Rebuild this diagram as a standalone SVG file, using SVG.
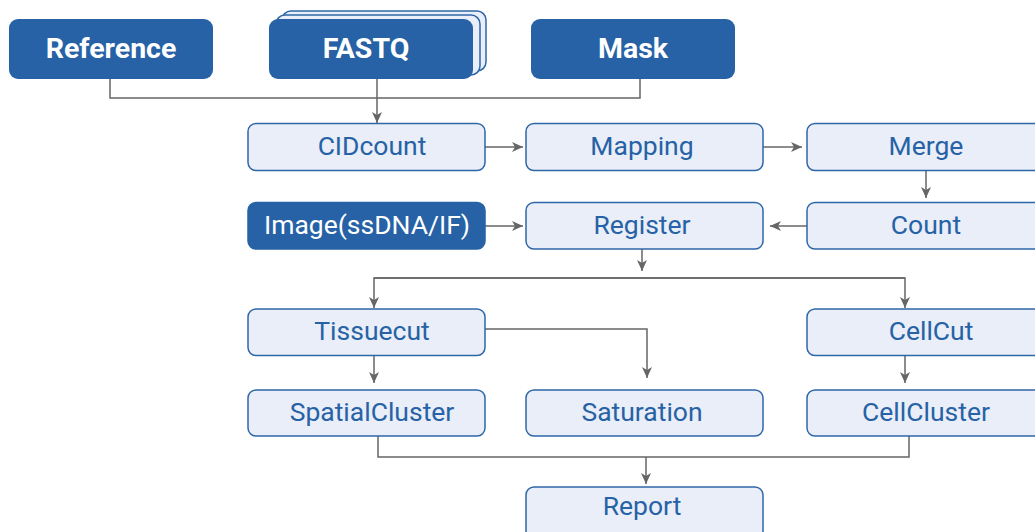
<svg xmlns="http://www.w3.org/2000/svg" width="1035" height="532" viewBox="0 0 1035 532">
<style>
.top{fill:#2662A5;}
.topt{fill:#fff;font-family:Roboto,"Liberation Sans",sans-serif;font-weight:bold;font-size:28.5px;text-anchor:middle;}
.box{fill:#E9EEF8;stroke:#2E67A8;stroke-width:1.5;}
.dark{fill:#2662A5;stroke:#2662A5;stroke-width:1.5;}
.t{fill:#2662A5;font-family:Roboto,"Liberation Sans",sans-serif;font-size:26.5px;text-anchor:middle;}
.tw{fill:#fff;font-family:Roboto,"Liberation Sans",sans-serif;font-size:26.5px;text-anchor:middle;}
.ln{fill:none;stroke:#666;stroke-width:1.5;}
.ar{fill:none;stroke:#666;stroke-width:1.5;marker-end:url(#ah);}
</style>
<defs>
<marker id="ah" markerUnits="userSpaceOnUse" markerWidth="12" markerHeight="12" viewBox="0 0 12 12" refX="11" refY="6" orient="auto">
<path d="M0,1 L11,6 L0,11 L3,6 z" fill="#666"/>
</marker>
</defs>
<g id="connectors">
<polyline class="ln" points="110,79 110,98 640,98 640,79"/>
<line class="ar" x1="377" y1="79" x2="377" y2="123"/>
<line class="ar" x1="485" y1="147" x2="523" y2="147"/>
<line class="ar" x1="763" y1="147" x2="802" y2="147"/>
<line class="ar" x1="926" y1="171" x2="926" y2="198"/>
<line class="ar" x1="485" y1="226" x2="523" y2="226"/>
<line class="ar" x1="807" y1="226" x2="770" y2="226"/>
<line class="ar" x1="642" y1="249" x2="642" y2="271"/>
<polyline class="ar" points="905,278 374,278 374,308"/>
<polyline class="ar" points="374,278 905,278 905,308"/>
<polyline class="ar" points="485,329 647,329 647,378"/>
<line class="ar" x1="374" y1="356" x2="374" y2="383"/>
<line class="ar" x1="905" y1="356" x2="905" y2="383"/>
<polyline class="ln" points="378,436 378,457 909,457 909,436"/>
<line class="ar" x1="646" y1="457" x2="646" y2="484"/>
</g>
<g id="reference"><rect class="top" x="9" y="19" width="204" height="60" rx="9"/><text class="topt" x="111" y="57.5">Reference</text></g>
<g id="fastq">
<rect class="box" x="282" y="11" width="204" height="60" rx="9"/>
<rect class="box" x="276" y="15" width="204" height="60" rx="9"/>
<rect class="top" x="269" y="19" width="204" height="60" rx="9"/><text class="topt" x="366" y="57.5">FASTQ</text></g>
<g id="mask"><rect class="top" x="531" y="19" width="204" height="60" rx="9"/><text class="topt" x="633" y="57.5">Mask</text></g>
<g id="cidcount"><rect class="box" x="248" y="123.5" width="237" height="47" rx="8"/><text class="t" x="372" y="155">CIDcount</text></g>
<g id="mapping"><rect class="box" x="526" y="123.5" width="237" height="47" rx="8"/><text class="t" x="642" y="155">Mapping</text></g>
<g id="merge"><rect class="box" x="807" y="123.5" width="240" height="47" rx="8"/><text class="t" x="926" y="155">Merge</text></g>
<g id="image"><rect class="dark" x="248" y="202.5" width="237" height="46.5" rx="8"/><text class="tw" x="367" y="234">Image(ssDNA/IF)</text></g>
<g id="register"><rect class="box" x="526" y="202.5" width="237" height="46.5" rx="8"/><text class="t" x="642" y="234">Register</text></g>
<g id="count"><rect class="box" x="807" y="202.5" width="240" height="46.5" rx="8"/><text class="t" x="926" y="234">Count</text></g>
<g id="tissuecut"><rect class="box" x="248" y="309" width="237" height="46.5" rx="8"/><text class="t" x="372" y="340">Tissuecut</text></g>
<g id="cellcut"><rect class="box" x="807" y="309" width="240" height="46.5" rx="8"/><text class="t" x="931" y="340">CellCut</text></g>
<g id="spatialcluster"><rect class="box" x="248" y="390" width="237" height="46" rx="8"/><text class="t" x="372" y="421">SpatialCluster</text></g>
<g id="saturation"><rect class="box" x="526" y="390" width="237" height="46" rx="8"/><text class="t" x="642" y="421">Saturation</text></g>
<g id="cellcluster"><rect class="box" x="807" y="390" width="240" height="46" rx="8"/><text class="t" x="926" y="421">CellCluster</text></g>
<g id="report"><rect class="box" x="526" y="487" width="237" height="52" rx="8"/><text class="t" x="642" y="515">Report</text></g>
</svg>
